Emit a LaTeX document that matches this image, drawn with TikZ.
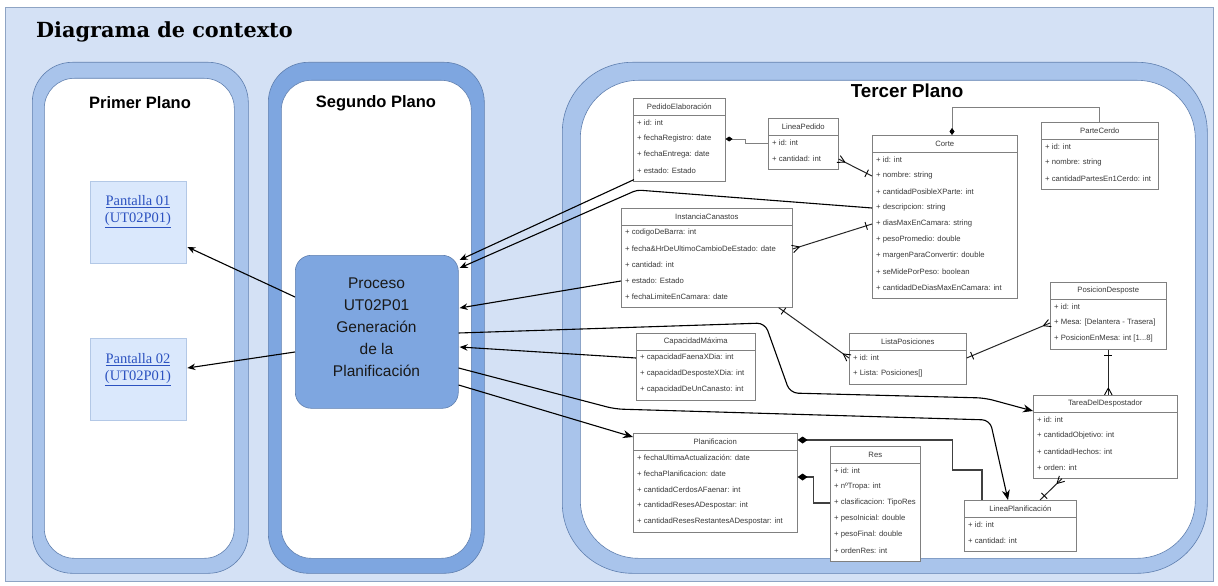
\documentclass[tikz,border=0pt]{standalone}
\usepackage{fontspec}
\setmainfont{Liberation Sans}
\newfontfamily\serifface{Liberation Serif}
\newfontfamily\titleface{DejaVu Serif}
\usetikzlibrary{arrows.meta,calc,decorations.markings}

\definecolor{framebg}{HTML}{D4E1F5}
\definecolor{framedraw}{HTML}{8EA4C4}
\definecolor{panellight}{HTML}{A9C4EB}
\definecolor{paneldark}{HTML}{7EA6E0}
\definecolor{paneledge}{HTML}{5F7FAF}
\definecolor{screenfill}{HTML}{DAE8FC}
\definecolor{screenedge}{HTML}{B3C8E6}
\definecolor{linkblue}{HTML}{2C52C0}
\definecolor{classedge}{HTML}{808080}
\definecolor{classink}{HTML}{3A3A3A}

% three dots kept out of the reach of \foreach
\newcommand\rangedots{...}

\tikzset{
  panel/.style={draw=paneledge, line width=0.6pt, anchor=north west, inner sep=0pt},
  planelabel/.style={font=\bfseries\fontsize{16.5}{20}\selectfont, inner sep=0pt},
  screenbox/.style={draw=screenedge, fill=screenfill, anchor=north west, inner sep=0pt,
    minimum width=96pt, minimum height=82pt},
  screentext/.style={align=center, text=linkblue, inner sep=0pt,
    font=\serifface\fontsize{14.5}{17}\selectfont},
  classbox/.style={draw=classedge, fill=white, line width=0.6pt, anchor=north west, inner sep=0pt},
  classrule/.style={draw=classedge, line width=0.6pt},
  classtext/.style={font=\fontsize{7.7}{9}\selectfont, text=classink, inner sep=0pt},
  flow/.style={draw=black, line width=1.1pt, -{Stealth[length=8pt,width=6.5pt]}},
  bigflow/.style={draw=black, line width=1.1pt, -{Stealth[length=10pt,width=8pt]}},
  rel/.style={draw=black!85, line width=1pt},
  thinrel/.style={draw=gray, line width=0.7pt},
  comprel/.style={draw=black!75, line width=1.4pt},
  manystart/.style={postaction={decorate,decoration={markings,
    mark=at position 0 with {\draw[black,line width=0.9pt] (7pt,0pt) -- (0pt,3.8pt) (7pt,0pt) -- (0pt,-3.8pt);}}}},
  manyend/.style={postaction={decorate,decoration={markings,
    mark=at position 1 with {\draw[black,line width=0.9pt] (-7pt,0pt) -- (0pt,3.8pt) (-7pt,0pt) -- (0pt,-3.8pt);}}}},
  onestart/.style={postaction={decorate,decoration={markings,
    mark=at position 0 with {\draw[black,line width=0.9pt] (6pt,-4pt) -- (6pt,4pt);}}}},
  oneend/.style={postaction={decorate,decoration={markings,
    mark=at position 1 with {\draw[black,line width=0.9pt] (-6pt,-4pt) -- (-6pt,4pt);}}}},
}

% UML class: name, left, top, width, number of rows, title, rows
\newcommand\umlclass[7]{%
  \node[classbox, minimum width=#4pt, minimum height={19pt+16pt*#5}] (#1) at (#2,#3) {};
  \draw[classrule] ($(#1.north west)+(0,17)$) -- ($(#1.north east)+(0,17)$);
  \node[classtext] (#1-t) at ($(#1.north)+(0,8.5)$) {#6};
  \foreach \r [count=\i] in {#7} {
    \node[classtext, anchor=west] (#1-\i) at ($(#1.north west)+(4,{25+16*(\i-1)})$) {\r};
  }
}

\begin{document}
\begin{tikzpicture}[x=1pt,y=-1pt]
\useasboundingbox (0,0) rectangle (1218,586);
\fill[white] (0,0) rectangle (1218,586);

% background frame and title
\node[anchor=north west, minimum width=1208pt, minimum height=574pt, inner sep=0pt,
      fill=framebg, draw=framedraw, line width=0.6pt] (frame) at (5,7) {};
\node[anchor=base west, inner sep=0pt, font=\titleface\bfseries\fontsize{20.8}{25}\selectfont]
  (title) at (36,38) {Diagrama de contexto};

% the three planes
\node[panel, fill=panellight, rounded corners=40pt, minimum width=216pt, minimum height=511pt] (p1out) at (32,62) {};
\node[panel, fill=white, rounded corners=30pt, minimum width=190pt, minimum height=480pt] (p1in) at (44,78) {};
\node[panel, fill=paneldark, rounded corners=40pt, minimum width=216pt, minimum height=511pt] (p2out) at (268,62) {};
\node[panel, fill=white, rounded corners=30pt, minimum width=190pt, minimum height=478pt] (p2in) at (281,80) {};
\node[panel, fill=panellight, rounded corners=70pt, minimum width=645pt, minimum height=511pt] (p3out) at (562,62) {};
\node[panel, fill=white, rounded corners=58pt, minimum width=615pt, minimum height=478pt] (p3in) at (580,80) {};

\node[planelabel] (p1lab) at (140,103) {Primer Plano};
\node[planelabel] (p2lab) at (376,103) {Segundo Plano};
\node[planelabel, font=\bfseries\fontsize{18.8}{22}\selectfont] (p3lab) at (907,91) {Tercer Plano};

% screens
\node[screenbox] (scr1) at (90,181) {};
\node[screentext] (scr1-t) at (138,212) {\underline{Pantalla 01}\\\underline{(UT02P01)}};
\node[screenbox] (scr2) at (90,338) {};
\node[screentext] (scr2-t) at (138,370) {\underline{Pantalla 02}\\\underline{(UT02P01)}};

% process
\node[draw=paneledge, fill=paneldark, line width=0.6pt, rounded corners=16pt, anchor=north west,
      inner sep=0pt, minimum width=163pt, minimum height=153pt] (proc) at (295,255) {};
\node[align=center, inner sep=0pt, text=black!90, font=\fontsize{15.5}{22}\selectfont]
  (proc-t) at (376.5,327) {Proceso\\UT02P01\\Generación\\de la\\Planificación};

% classes
\umlclass{ped}{633}{98}{92}{4}{PedidoElaboración}{{+ id: int},{+ fechaRegistro: date},{+ fechaEntrega: date},{+ estado: Estado}}
\umlclass{linped}{768}{118}{70}{2}{LineaPedido}{{+ id: int},{+ cantidad: int}}
\umlclass{corte}{872}{135}{145}{9}{Corte}{{+ id: int},{+ nombre: string},{+ cantidadPosibleXParte: int},{+ descripcion: string},{+ diasMaxEnCamara: string},{+ pesoPromedio: double},{+ margenParaConvertir: double},{+ seMidePorPeso: boolean},{+ cantidadDeDiasMaxEnCamara: int}}
\umlclass{parte}{1041}{122}{117}{3}{ParteCerdo}{{+ id: int},{+ nombre: string},{+ cantidadPartesEn1Cerdo: int}}
\umlclass{inst}{621}{208}{171}{5}{InstanciaCanastos}{{+ codigoDeBarra: int},{+ fecha\&HrDeUltimoCambioDeEstado: date},{+ cantidad: int},{+ estado: Estado},{+ fechaLimiteEnCamara: date}}
\umlclass{cap}{636}{333}{119}{3}{CapacidadMáxima}{{+ capacidadFaenaXDia: int},{+ capacidadDesposteXDia: int},{+ capacidadDeUnCanasto: int}}
\umlclass{lista}{849}{333}{117}{2}{ListaPosiciones}{{+ id: int},{+ Lista: Posiciones[]}}
\umlclass{pos}{1050}{282}{116}{3}{PosicionDesposte}{{+ id: int},{+ Mesa: [Delantera - Trasera]},{+ PosicionEnMesa: int [1\rangedots 8]}}
\umlclass{tarea}{1033}{395}{144}{4}{TareaDelDespostador}{{+ id: int},{+ cantidadObjetivo: int},{+ cantidadHechos: int},{+ orden: int}}
\umlclass{linp}{964}{500}{112}{2}{LineaPlanificación}{{+ id: int},{+ cantidad: int}}
\umlclass{plan}{633}{433}{164}{5}{Planificacion}{{+ fechaUltimaActualización: date},{+ fechaPlanificacion: date},{+ cantidadCerdosAFaenar: int},{+ cantidadResesADespostar: int},{+ cantidadResesRestantesADespostar: int}}
\umlclass{res}{830}{446}{90}{6}{Res}{{+ id: int},{+ nºTropa: int},{+ clasificacion: TipoRes},{+ pesoInicial: double},{+ pesoFinal: double},{+ ordenRes: int}}

% bend points of the routed connectors
\coordinate (bendA) at (637,190);
\coordinate (bendB1) at (765,323);
\coordinate (bendB2) at (790,393);
\coordinate (bendB3) at (985,398);
\coordinate (bendC1) at (615,409);
\coordinate (bendC2) at (990,420);

% process outputs to the screens
\draw[flow] ($(proc.north west)+(0,42)$) -- ($(scr1.north east)+(1,66)$);
\draw[flow] ($(proc.north west)+(0,97)$) -- ($(scr2.north east)+(1,30)$);

% data read by the process
\draw[flow] ($(ped.south west)+(1,-2)$) -- ($(proc.north east)+(1,5)$);
\draw[flow, rounded corners=4pt] (corte.west |- corte-4) -- (bendA) -- ($(proc.north east)+(1,13)$);
\draw[flow] (inst.west |- inst-4) -- ($(proc.north east)+(1,53)$);
\draw[flow] (cap.west |- cap-1) -- ($(proc.north east)+(1,92)$);

% data written by the process
\draw[bigflow, rounded corners=8pt] ($(proc.north east)+(0,78)$) -- (bendB1) -- (bendB2) -- (bendB3) -- ($(tarea.north west)+(0,16)$);
\draw[bigflow, rounded corners=8pt] ($(proc.north east)+(0,113)$) -- (bendC1) -- (bendC2) -- ($(linp.north west)+(44,0)$);
\draw[bigflow] ($(proc.north east)+(0,130)$) -- ($(plan.north west)+(0,4)$);

% relations between classes
\draw[thinrel, {Diamond[length=7pt,width=5pt,black]}-] (ped.east |- ped-2) -- ++(20,0) |- (linped.west |- linped-1);
\draw[thinrel, {Diamond[length=7pt,width=5pt,black]}-] ($(corte.north west)+(80,0)$) -- ++(0,-28) -| (parte.north);
\draw[rel, manystart, oneend] (linped.east |- linped-2) -- (corte.west |- corte-2);
\draw[rel, manystart, oneend] (inst.east |- inst-2) -- (corte.west |- corte-5);
\draw[rel, onestart, manyend] ($(inst.south east)+(-14,0)$) -- (lista.west |- lista-1);
\draw[rel, onestart, manyend] (lista.east |- lista-1) -- (pos.west |- pos-2);
\draw[rel, onestart, manyend] (pos.south) -- (pos.south |- tarea.north);
\draw[rel, manystart, oneend] ($(tarea.south west)+(29,0)$) -- ($(linp.north west)+(76,0)$);
\draw[comprel, {Diamond[length=10pt,width=7pt,black]}-] ($(plan.north east)+(0,7)$) -- ++(155,0) -- ++(0,30) -| ($(linp.north west)+(18,0)$);
\draw[comprel, {Diamond[length=10pt,width=7pt,black]}-] ($(plan.east |- plan-2)+(0,3)$) -- ++(16,0) |- (res.west |- res-3);
\end{tikzpicture}
\end{document}
